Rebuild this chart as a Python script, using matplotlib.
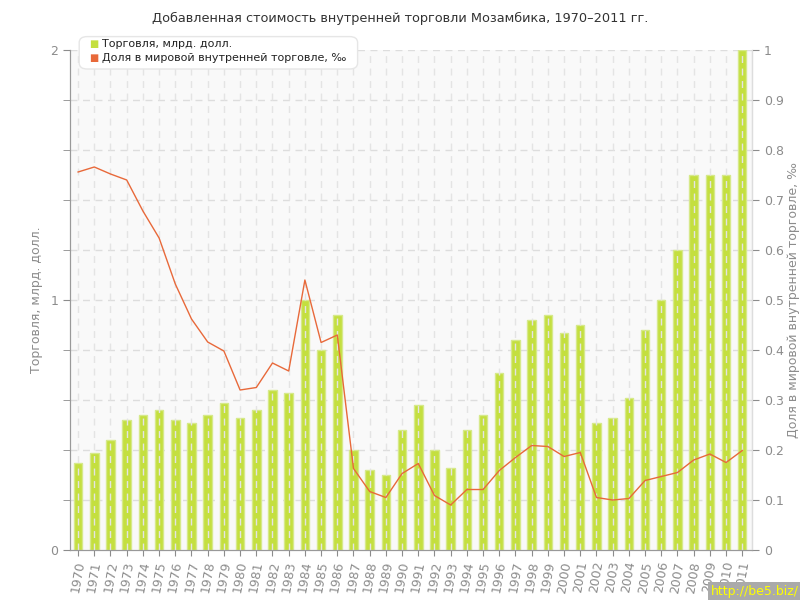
import numpy as np
import matplotlib.pyplot as plt
from matplotlib.patches import FancyBboxPatch

years = list(range(1970, 2012))
trade = [0.35, 0.39, 0.44, 0.52, 0.54, 0.56, 0.52, 0.51, 0.54, 0.59,
         0.53, 0.56, 0.64, 0.63, 1.00, 0.80, 0.94, 0.40, 0.32, 0.30,
         0.48, 0.58, 0.40, 0.33, 0.48, 0.54, 0.71, 0.84, 0.92, 0.94,
         0.87, 0.90, 0.51, 0.53, 0.61, 0.88, 1.00, 1.20, 1.50, 1.50,
         1.50, 2.00]
share = [0.756, 0.766, 0.752, 0.740, 0.678, 0.624, 0.532, 0.462, 0.416, 0.398,
         0.320, 0.325, 0.374, 0.358, 0.540, 0.415, 0.430, 0.163, 0.117, 0.105,
         0.153, 0.173, 0.109, 0.090, 0.121, 0.121, 0.159, 0.185, 0.209, 0.207,
         0.187, 0.195, 0.105, 0.100, 0.103, 0.139, 0.147, 0.155, 0.180, 0.192,
         0.175, 0.199]

gray = "#8c8c8c"
bar_color = "#c4df3f"
line_color = "#e8693a"

fig = plt.figure(figsize=(8, 6), dpi=100)
ax = fig.add_axes([0.0875, 0.0833, 0.8525, 0.8334])
ax.set_facecolor("#f9f9f9")
x = np.arange(len(years))

ax.bar(x, trade, width=0.52, color=bar_color, edgecolor="#d6e98a", linewidth=1, zorder=2)
ax.set_xlim(-0.5, len(years) - 0.4)
ax.set_ylim(0, 2)
ax.set_yticks([0, 1, 2])
ax.set_yticks(np.arange(0, 2.01, 0.2), minor=True)
ax.set_xticks(x)
ax.set_xticklabels([str(y) for y in years], rotation=80, fontsize=9, color=gray)
ax.tick_params(axis="y", colors=gray, labelsize=9, length=5)
ax.tick_params(axis="y", which="minor", length=5, colors=gray)
ax.tick_params(axis="x", colors=gray, length=4)

# grid
for v in np.arange(0.2, 2.01, 0.2):
    ax.axhline(v, color="#dddddd", lw=1, ls=(0, (5, 4)), zorder=1)
for xi in x:
    ax.axvline(xi, color="#e4e4e4", lw=1, ls=(0, (5, 4)), zorder=3)

ax.spines["top"].set_visible(False)
for s in ["left", "bottom", "right"]:
    ax.spines[s].set_color("#999999")
ax.set_ylabel("Торговля, млрд. долл.", color=gray, fontsize=9)
ax.yaxis.set_label_coords(-0.04, 0.5)

ax2 = ax.twinx()
ax2.plot(x, share, color=line_color, lw=1, zorder=4)
ax2.set_ylim(0, 1)
ax2.set_yticks(np.arange(0, 1.01, 0.1))
ax2.set_yticklabels(["0"] + ["%.1f" % v for v in np.arange(0.1, 0.95, 0.1)] + ["1"])
ax2.tick_params(axis="y", colors=gray, labelsize=9, length=5)
ax2.spines["top"].set_visible(False)
ax2.spines["right"].set_color("#dddddd")
ax2.spines["left"].set_color("#999999")
ax2.spines["bottom"].set_color("#999999")
ax2.set_ylabel("Доля в мировой внутренней торговле, ‰", color=gray, fontsize=9)
ax2.yaxis.set_label_coords(1.052, 0.5)

fig.text(0.5, 0.97, "Добавленная стоимость внутренней торговли Мозамбика, 1970–2011 гг.",
         ha="center", va="center", fontsize=9.3, color="#333333")

# legend box
box = FancyBboxPatch((0.103, 0.889), 0.34, 0.046, boxstyle="round,pad=0.004,rounding_size=0.01",
                     transform=fig.transFigure, facecolor="white", edgecolor="#e6e6e6",
                     zorder=10)
fig.patches.append(box)
fig.text(0.112, 0.927, "■", color=bar_color, fontsize=7, va="center", zorder=11)
fig.text(0.128, 0.927, "Торговля, млрд. долл.", color="#222222", fontsize=8, va="center", zorder=11)
fig.text(0.112, 0.903, "■", color=line_color, fontsize=7, va="center", zorder=11)
fig.text(0.128, 0.903, "Доля в мировой внутренней торговле, ‰", color="#222222", fontsize=8,
         va="center", zorder=11)

fig.text(0.998, 0.003, "http://be5.biz/", color="#ffff00", fontsize=9, ha="right", va="bottom",
         bbox=dict(facecolor="#aaaaaa", edgecolor="none", pad=2))

fig.savefig("out.png", dpi=100)
